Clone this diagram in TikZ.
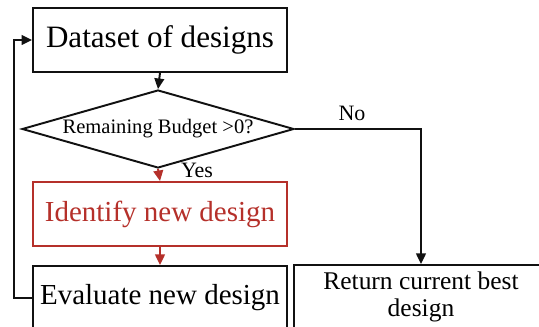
\documentclass[tikz,border=0pt]{standalone}
\usepackage{fontspec}
\setmainfont{Liberation Serif}
\usepackage{xcolor}
\usetikzlibrary{arrows.meta,shapes.geometric}
\definecolor{loopred}{HTML}{B5302A}
\definecolor{loopink}{HTML}{111111}

\begin{document}
\begin{tikzpicture}[x=0.02cm, y=-0.02cm,
  stepbox/.style={draw=loopink, line width=1.1pt, minimum width=5.08cm,
    minimum height=1.28cm, inner sep=0pt, align=center, font=\fontsize{16.5}{19}\selectfont},
  decide/.style={draw=loopink, line width=1.1pt, diamond, aspect=3.49,
    minimum width=5.44cm, minimum height=1.56cm, inner sep=0pt, font=\fontsize{11.7}{14}\selectfont},
  flow/.style={line width=1.1pt, draw=loopink, -{Triangle[length=6pt,width=5.5pt]}},
  redflow/.style={line width=1.1pt, draw=loopred, -{Triangle[length=6pt,width=5.5pt]}},
  lab/.style={font=\fontsize{12.5}{14}\selectfont}]
  \useasboundingbox (0,0) rectangle (539,327);
  \clip (0,0) rectangle (539,327);

  \node[stepbox, font=\fontsize{17.7}{20}\selectfont] (data) at (160,40) {Dataset of designs};
  \node[decide] (budget) at (158,129) {Remaining Budget >0?};
  \node[stepbox, draw=loopred, text=loopred] (ident) at (160,214) {Identify new design};
  \node[stepbox] (eval) at (160,298) {Evaluate new design};
  \node[stepbox, font=\fontsize{14.5}{15.4}\selectfont] (ret) at (421,297) {Return current best\\design};
  \coordinate (back) at (14,298);

  \draw[flow] (data.south) -- (budget.north);
  \draw[redflow] (budget.south) -- (ident.north);
  \draw[redflow] (ident.south) -- (eval.north);
  \draw[flow] (budget.east) -| (ret.north);
  \draw[flow] (eval.west) -- (back) |- (data.west);

  \node[lab] (yes) at (197,170) {Yes};
  \node[lab] (no) at (352,113) {No};
\end{tikzpicture}
\end{document}
